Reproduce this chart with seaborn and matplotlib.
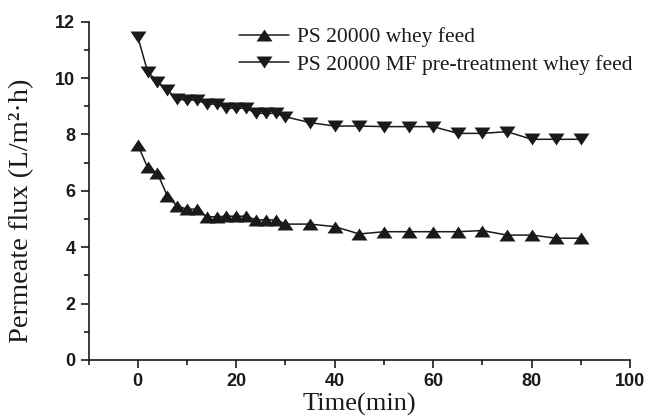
import numpy as np
import pandas as pd
import matplotlib
matplotlib.use("Agg")
import matplotlib.pyplot as plt
from matplotlib.ticker import MultipleLocator
import seaborn as sns

# Sampling times (min): every 2 min up to 30, then every 5 min
time_min = [0, 2, 4, 6, 8, 10, 12, 14, 16, 18, 20, 22, 24, 26, 28, 30,
            35, 40, 45, 50, 55, 60, 65, 70, 75, 80, 85, 90]

# Permeate flux, L/(m^2 h)
flux_whey = [7.63, 6.83, 6.62, 5.82, 5.46, 5.35, 5.35, 5.08, 5.08, 5.10,
             5.10, 5.10, 4.97, 4.97, 4.97, 4.82, 4.82, 4.73, 4.47, 4.55,
             4.55, 4.55, 4.55, 4.59, 4.43, 4.43, 4.32, 4.32]
flux_mf = [11.47, 10.23, 9.87, 9.58, 9.25, 9.22, 9.22, 9.08, 9.08, 8.93,
           8.93, 8.93, 8.75, 8.75, 8.75, 8.63, 8.42, 8.30, 8.30, 8.28,
           8.28, 8.28, 8.04, 8.04, 8.10, 7.83, 7.83, 7.83]

series_names = ["PS 20000 whey feed", "PS 20000 MF pre-treatment whey feed"]

df = pd.concat([
    pd.DataFrame({"time": time_min, "flux": flux_whey, "series": series_names[0]}),
    pd.DataFrame({"time": time_min, "flux": flux_mf, "series": series_names[1]}),
])

sns.set_theme(style="ticks")
plt.rcParams["font.family"] = ["Liberation Serif", "DejaVu Serif"]

# Slightly squat triangles
tri_up = [(-1, -0.75), (1, -0.75), (0, 0.75), (-1, -0.75)]
tri_down = [(-1, 0.75), (1, 0.75), (0, -0.75), (-1, 0.75)]

fig = plt.figure(figsize=(6.51, 4.19), dpi=100)
ax = fig.add_axes([0.136, 0.141, 0.832, 0.807])

ink = "#1a1a1a"
sns.lineplot(data=df, x="time", y="flux", hue="series", style="series",
             markers={series_names[0]: tri_up, series_names[1]: tri_down},
             dashes=False, palette=[ink, ink], markersize=11.5,
             markeredgewidth=0, linewidth=1.1, ax=ax)

ax.set_xlim(-10, 100)
ax.set_ylim(0, 12)
ax.xaxis.set_major_locator(MultipleLocator(20))
ax.xaxis.set_minor_locator(MultipleLocator(10))
ax.yaxis.set_major_locator(MultipleLocator(2))
ax.yaxis.set_minor_locator(MultipleLocator(1))

for side in ("top", "right"):
    ax.spines[side].set_visible(False)
for side in ("left", "bottom"):
    ax.spines[side].set_linewidth(1.2)
    ax.spines[side].set_color(ink)

ax.tick_params(which="major", direction="out", length=6, width=1.2, color=ink,
               labelsize=13, labelcolor=ink)
ax.tick_params(which="minor", direction="out", length=3.5, width=1.2, color=ink)
for lab in ax.get_xticklabels() + ax.get_yticklabels():
    lab.set_fontfamily("Liberation Sans")
    lab.set_fontweight("bold")

ax.set_xlabel("Time(min)", fontsize=19, color=ink, labelpad=2)
ax.set_ylabel("Permeate flux (L/m²·h)", fontsize=20.5, color=ink)
ax.yaxis.set_label_coords(-0.1, 0.44)

leg = ax.legend(loc="upper left", bbox_to_anchor=(0.262, 1.01), frameon=False,
                fontsize=15.5, handlelength=2.3, handletextpad=0.4,
                labelspacing=0.35, borderaxespad=0)
for t in leg.get_texts():
    t.set_color(ink)

fig.savefig("out.png", dpi=100)
